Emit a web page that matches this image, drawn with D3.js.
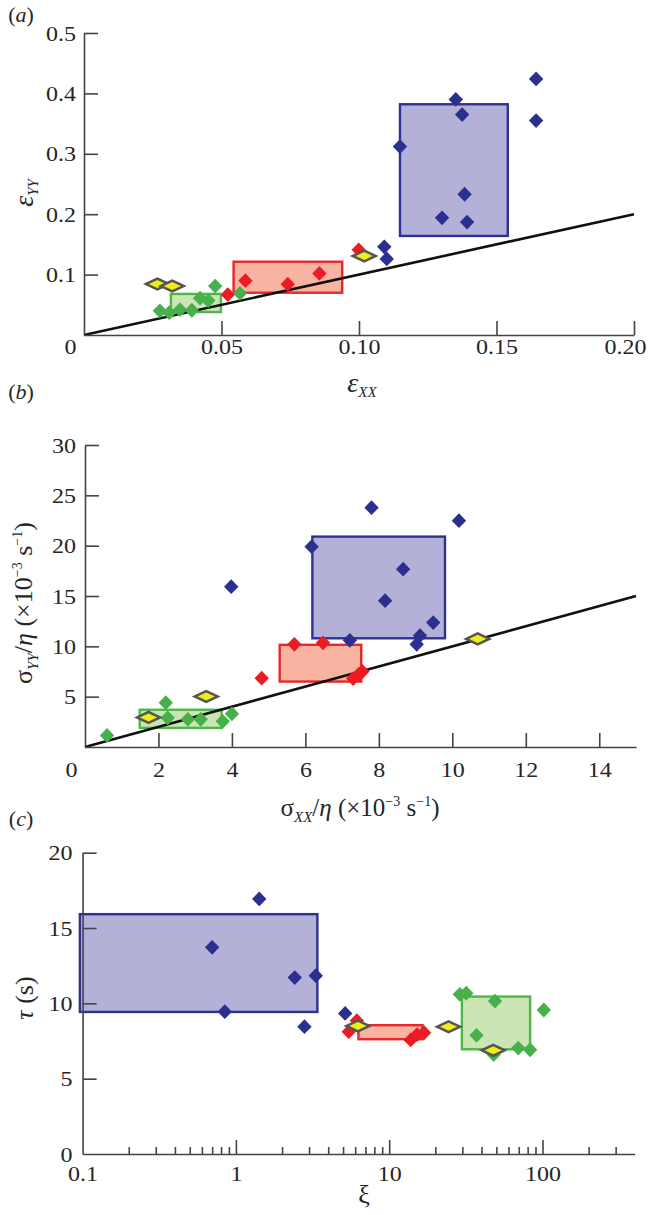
<!DOCTYPE html>
<html><head><meta charset="utf-8">
<script src="https://cdn.jsdelivr.net/npm/d3@7"></script>
<style>
body{margin:0;background:#fff}
svg text{font-family:"Liberation Serif","Times New Roman",serif;fill:#262626}
</style>
</head><body><svg id="chart" width="648" height="1215"></svg>
<script>
// ---------- Panel (a): strain ----------
const aBlue   = [[0.1644,0.424],[0.1644,0.355],[0.1352,0.390],[0.1375,0.365],[0.1149,0.312],[0.1384,0.233],[0.1302,0.194],[0.1393,0.187],[0.1092,0.146],[0.1101,0.126]];
const aRed    = [[0.0999,0.141],[0.0587,0.090],[0.0741,0.084],[0.0856,0.102],[0.0523,0.067]];
const aGreen  = [[0.0276,0.040],[0.031,0.037],[0.0349,0.042],[0.0392,0.041],[0.0422,0.061],[0.0452,0.057],[0.0477,0.081],[0.0567,0.069]];
const aYellow = [[0.0267,0.0844],[0.0321,0.0811],[0.1019,0.1308]];
const aBoxBlue  = [0.1149,0.1541,0.164,0.382];
const aBoxRed   = [0.0544,0.0939,0.070,0.1213];
const aBoxGreen = [0.0316,0.0498,0.038,0.068];
const aXTicks = [0,0.05,0.10,0.15,0.20];
const aXLabels = ["0","0.05","0.10","0.15","0.20"];
const aYTicks = [0.1,0.2,0.3,0.4,0.5];
const aYLabels = ["0.1","0.2","0.3","0.4","0.5"];

// ---------- Panel (b): stress ----------
const bBlue   = [[7.80,23.77],[10.18,22.48],[6.17,19.9],[3.98,15.93],[8.66,17.66],[8.17,14.54],[9.48,12.36],[9.12,11.07],[9.03,10.2],[7.21,10.6]];
const bRed    = [[4.81,6.84],[5.70,10.2],[6.48,10.35],[7.30,6.8],[7.45,7.2],[7.55,7.5]];
const bGreen  = [[0.6,1.15],[2.2,4.4],[2.25,2.9],[2.8,2.75],[3.15,2.75],[3.75,2.55],[4.0,3.3]];
const bYellow = [[3.30,5.02],[1.73,2.94],[10.69,10.74]];
const bBoxBlue  = [6.19,9.80,10.8,20.9];
const bBoxRed   = [5.3,7.52,6.5,10.15];
const bBoxGreen = [1.49,3.72,1.9,3.7];
const bXTicks = [0,2,4,6,8,10,12,14];
const bXLabels = ["0","2","4","6","8","10","12","14"];
const bYTicks = [5,10,15,20,25,30];
const bYLabels = ["5","10","15","20","25","30"];

// ---------- Panel (c): relaxation time vs xi ----------
const cBlue   = [[1.42,16.93],[0.70,13.72],[2.42,11.71],[3.32,11.84],[0.846,9.45],[2.80,8.45],[5.16,9.33]];
const cRed    = [[5.45,8.12],[6.15,8.85],[13.8,7.57],[15.2,7.93],[16.9,8.05]];
const cGreen  = [[28.9,10.6],[31.8,10.67],[49,10.15],[102,9.56],[37.1,7.88],[69.5,7.03],[83,6.92],[48,6.6]];
const cYellow = [[6.25,8.5],[24.4,8.45],[47.7,6.88]];
const cBoxBlue  = [0.096,3.40,9.43,15.92];
const cBoxRed   = [6.3,16.5,7.62,8.55];
const cBoxGreen = [29.8,83.0,6.95,10.45];
const cXTicks = [0.1,1,10,100];
const cXLabels = ["0.1","1","10","100"];
const cXMinor = [0.2,0.3,0.4,0.5,0.6,0.7,0.8,0.9,2,3,4,5,6,7,8,9,20,30,40,50,60,70,80,90,200,300];
const cYTicks = [0,5,10,15,20];
const cYLabels = ["0","5","10","15","20"];

// ---------- styles ----------
const COL = {
  blue:{m:"#2b2f8e", fill:"#b4b1d8", stroke:"#2e3192"},
  red:{m:"#ec1c24", fill:"#f8b4a0", stroke:"#e8262b"},
  green:{m:"#47b04b", fill:"#cbe6b4", stroke:"#4db848"},
  yellow:{m:"#f0ee1a", stroke:"#555555"}
};
const svg = d3.select("#chart");

function diamond(w,h){ return `M0,${-h}L${w},0L0,${h}L${-w},0Z`; }

function panel(cfg){
  const g = svg.append("g");
  const x = cfg.x, y = cfg.y;
  // boxes
  [["blue",cfg.boxBlue],["red",cfg.boxRed],["green",cfg.boxGreen]].forEach(([k,b])=>{
    g.append("rect")
      .attr("x", x(b[0])).attr("y", y(b[3]))
      .attr("width", x(b[1])-x(b[0])).attr("height", y(b[2])-y(b[3]))
      .attr("fill", COL[k].fill).attr("stroke", COL[k].stroke).attr("stroke-width",2.4);
  });
  // identity line
  if(cfg.line){
    g.append("line")
      .attr("x1", x(cfg.line[0])).attr("y1", y(cfg.line[0]))
      .attr("x2", x(cfg.line[1])).attr("y2", y(cfg.line[1]))
      .attr("stroke","#111").attr("stroke-width",2.6);
  }
  // markers
  [["green",cfg.green],["red",cfg.red],["blue",cfg.blue]].forEach(([k,pts])=>{
    g.selectAll(null).data(pts).enter().append("path")
      .attr("d", diamond(7.2,7.4))
      .attr("transform", d=>`translate(${x(d[0])},${y(d[1])})`)
      .attr("fill", COL[k].m);
  });
  g.selectAll(null).data(cfg.yellow).enter().append("path")
    .attr("d", diamond(11.5,5.4))
    .attr("transform", d=>`translate(${x(d[0])},${y(d[1])})`)
    .attr("fill", COL.yellow.m).attr("stroke", COL.yellow.stroke).attr("stroke-width",2.5);

  // axes
  const y0 = y.range()[0], x0 = x.range()[0];
  const xa = g.append("g").attr("transform",`translate(0,${y0})`)
    .call(d3.axisBottom(x).tickValues(cfg.xTicks).tickFormat((d,i)=>cfg.xLabels[i]).tickSize(-14).tickSizeOuter(0));
  xa.selectAll("text").attr("y", cfg.xLabY).attr("dy",0)
    .attr("transform","scale(1.2,1)")
    .attr("x", (d,i)=> (d===0 && cfg.zeroShift) ? cfg.zeroShift/1.2 : 0);
  if(cfg.lastEnd){
    const n = cfg.xTicks.length-1;
    xa.selectAll("text").filter((d,i)=>i===n)
      .attr("text-anchor","end").attr("x", cfg.lastEnd/1.2);
  }
  if(cfg.minor){
    g.append("g").attr("transform",`translate(0,${y0})`)
      .call(d3.axisBottom(x).tickValues(cfg.minor).tickFormat("").tickSize(-7).tickSizeOuter(0))
      .select(".domain").remove();
  }
  const ya = g.append("g").attr("transform",`translate(${x0},0)`)
    .call(d3.axisLeft(y).tickValues(cfg.yTicks).tickFormat((d,i)=>cfg.yLabels[i]).tickSize(-14).tickSizeOuter(0));
  ya.selectAll("text").attr("x", -cfg.yLabX/1.2).attr("dy","0.35em").attr("transform","scale(1.2,1)");
  g.selectAll(".domain").attr("stroke","#444").attr("stroke-width",1.6);
  g.selectAll(".tick line").attr("stroke","#444").attr("stroke-width",1.6);
  g.selectAll(".tick line").filter(function(d){return cfg.hideTickAt && cfg.hideTickAt.includes(d);}).remove();
  g.selectAll(".tick text").attr("font-size",20).attr("fill","#262626")
    .attr("font-family",'"Liberation Serif","Times New Roman",serif');
  return g;
}

// Panel (a)
const axA = d3.scaleLinear().domain([0,0.2]).range([84,634]);
const ayA = d3.scaleLinear().domain([0,0.5]).range([335,33]);
panel({x:axA,y:ayA,blue:aBlue,red:aRed,green:aGreen,yellow:aYellow,
  boxBlue:aBoxBlue,boxRed:aBoxRed,boxGreen:aBoxGreen,line:[0,0.2],
  xTicks:aXTicks,xLabels:aXLabels,yTicks:aYTicks,yLabels:aYLabels,
  xLabY:19,yLabX:8,zeroShift:-14,hideTickAt:[0],lastEnd:12});

// Panel (b)
const axB = d3.scaleLinear().domain([0,15]).range([85,636]);
const ayB = d3.scaleLinear().domain([0,30]).range([747,445]);
panel({x:axB,y:ayB,blue:bBlue,red:bRed,green:bGreen,yellow:bYellow,
  boxBlue:bBoxBlue,boxRed:bBoxRed,boxGreen:bBoxGreen,line:[0,15],
  xTicks:bXTicks,xLabels:bXLabels,yTicks:bYTicks,yLabels:bYLabels,
  xLabY:30,yLabX:9,zeroShift:-14,hideTickAt:[0]});

// Panel (c)
const axC = d3.scaleLog().domain([0.1,400]).range([82.6,634.8]);
const ayC = d3.scaleLinear().domain([0,20]).range([1154,852.7]);
panel({x:axC,y:ayC,blue:cBlue,red:cRed,green:cGreen,yellow:cYellow,
  boxBlue:cBoxBlue,boxRed:cBoxRed,boxGreen:cBoxGreen,line:null,
  xTicks:cXTicks,xLabels:cXLabels,yTicks:cYTicks,yLabels:cYLabels,minor:cXMinor,
  xLabY:27,yLabX:10,hideTickAt:[0,0.1]});

// ---------- titles ----------
function label(x,y,rot,parts,size){
  const t = svg.append("text").attr("transform",`translate(${x},${y}) rotate(${rot})`)
    .attr("text-anchor","middle").attr("font-size",size).attr("fill","#222");
  parts.forEach(p=>{
    const s = t.append("tspan").text(p.t);
    if(p.i) s.attr("font-style","italic");
    if(p.s) s.attr("font-size",p.s);
    if(p.dy) s.attr("dy",p.dy);
  });
  return t;
}
// panel tags
label(21,22,0,[{t:"(",},{t:"a",i:1},{t:")"}],22);
label(21,399,0,[{t:"(",},{t:"b",i:1},{t:")"}],22);
label(21,826,0,[{t:"(",},{t:"c",i:1},{t:")"}],22);

// (a)
label(33,193,-90,[{t:"ε",i:1},{t:"YY",i:1,s:15,dy:5}],28);
label(362,392,0,[{t:"ε",i:1},{t:"XX",i:1,s:15,dy:5}],28);
// (b)
label(32,603,-90,[{t:"σ"},{t:"YY",i:1,s:15,dy:6},{t:"/",dy:-6},{t:"η",i:1},{t:" (×10"},{t:"−3",s:14,dy:-10},{t:" s",dy:10},{t:"−1",s:14,dy:-10},{t:")",dy:10}],26);
label(360,816,0,[{t:"σ"},{t:"XX",i:1,s:15,dy:6},{t:"/",dy:-6},{t:"η",i:1},{t:" (×10"},{t:"−3",s:14,dy:-10},{t:" s",dy:10},{t:"−1",s:14,dy:-10},{t:")",dy:10}],25);
// (c)
label(33,998,-90,[{t:"τ",i:1},{t:" (s)"}],26);
label(364,1203,0,[{t:"ξ"}],26);
</script>
</body></html>
